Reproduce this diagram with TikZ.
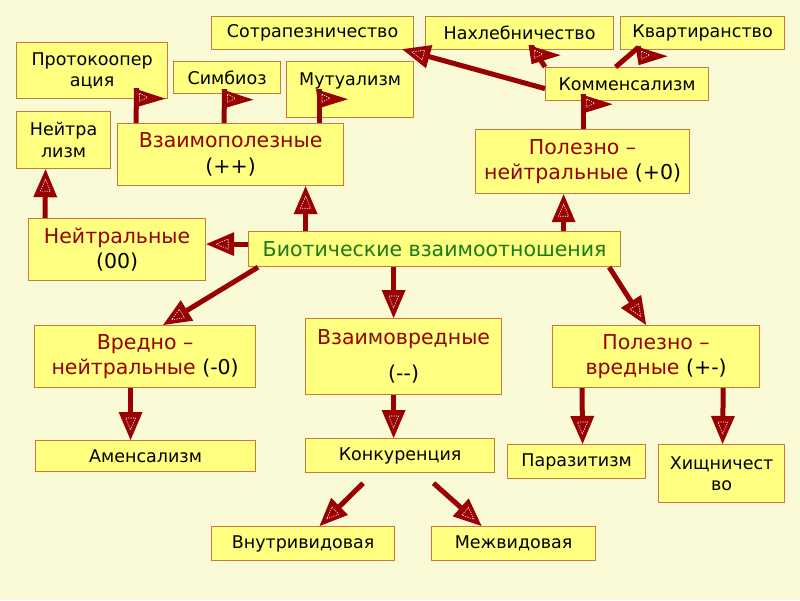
\documentclass[tikz,border=0pt]{standalone}
\usepackage{fontspec}
\setmainfont{DejaVu Sans}
\usetikzlibrary{arrows.meta}

\definecolor{fond}{HTML}{FBFAD6}
\definecolor{jaune}{HTML}{FFFF80}
\definecolor{bord}{HTML}{C87A3C}
\definecolor{rouge}{HTML}{990000}
\definecolor{vert}{HTML}{1A7A1A}

%pointe triangulaire avec contour blanc en tirets
\pgfdeclarearrow{
  name = Pike,
  setup code = {
    \pgfarrowssettipend{0pt}
    \pgfarrowssetlineend{-20pt}
    \pgfarrowssetbackend{-28pt}
    \pgfarrowshullpoint{0pt}{0pt}
    \pgfarrowshullpoint{-28pt}{12pt}
    \pgfarrowshullpoint{-28pt}{-12pt}
  },
  drawing code = {
    \pgfpathmoveto{\pgfqpoint{0pt}{0pt}}
    \pgfpathlineto{\pgfqpoint{-28pt}{12pt}}
    \pgfpathlineto{\pgfqpoint{-28pt}{-12pt}}
    \pgfpathclose
    \pgfusepathqfill
    \pgfsetlinewidth{0.6pt}
    \pgfsetdash{{1.2pt}{1.2pt}}{0pt}
    \pgfsetstrokecolor{white}
    \pgfpathmoveto{\pgfqpoint{-10pt}{0pt}}
    \pgfpathlineto{\pgfqpoint{-22pt}{5pt}}
    \pgfpathlineto{\pgfqpoint{-22pt}{-5pt}}
    \pgfpathclose
    \pgfusepathqstroke
  }
}
%pointe en drapeau
\pgfdeclarearrow{
  name = Flag,
  setup code = {
    \pgfarrowssettipend{0pt}
    \pgfarrowssetlineend{0pt}
    \pgfarrowssetbackend{-19pt}
    \pgfarrowshullpoint{0pt}{3pt}
    \pgfarrowshullpoint{-10pt}{-29pt}
    \pgfarrowshullpoint{-19pt}{0pt}
  },
  drawing code = {
    \pgfpathmoveto{\pgfqpoint{0pt}{3pt}}
    \pgfpathlineto{\pgfqpoint{-10pt}{-29pt}}
    \pgfpathlineto{\pgfqpoint{-19pt}{0pt}}
    \pgfpathclose
    \pgfusepathqfill
    \pgfsetlinewidth{0.6pt}
    \pgfsetdash{{1.2pt}{1.2pt}}{0pt}
    \pgfsetstrokecolor{white}
    \pgfpathmoveto{\pgfqpoint{-5pt}{-3pt}}
    \pgfpathlineto{\pgfqpoint{-9pt}{-11pt}}
    \pgfpathlineto{\pgfqpoint{-13pt}{-3pt}}
    \pgfpathclose
    \pgfusepathqstroke
  }
}

\tikzset{
  box/.style={draw=bord, line width=1.2pt, fill=jaune, anchor=north west, inner sep=0pt, align=center},
  leaf/.style={box, font=\fontsize{17.5}{21.5}\selectfont},
  head/.style={box, font=\fontsize{20.5}{25.5}\selectfont},
  link/.style={color=rouge, line width=5pt, -Pike},
  flaglink/.style={color=rouge, line width=5pt, -Flag},
}

\begin{document}
\begin{tikzpicture}[x=1pt, y=-1pt]
	\useasboundingbox (0,0) rectangle (800,600);
	\fill[fond] (0,0) rectangle (800,600);

	%noeuds du haut
	\node (sotr) at(211,16) [leaf, minimum width=202pt, minimum height=33pt] {Сотрапезничество};
	\node (nakh) at(425,16) [leaf, minimum width=188pt, minimum height=33pt] {Нахлебничество};
	\node (kvar) at(620,16) [leaf, minimum width=164pt, minimum height=33pt] {Квартиранство};
	\node (proto) at(16,42) [leaf, minimum width=151pt, minimum height=56pt] {Протокоопер\\ация};
	\node (simb) at(173,61) [leaf, minimum width=107pt, minimum height=32pt] {Симбиоз};
	\node (mutu) at(286,61) [leaf, minimum width=127pt, minimum height=56pt] {Мутуализм\\\mbox{}};
	\node (komm) at(545,67) [leaf, minimum width=163pt, minimum height=33pt] {Комменсализм};
	\node (neitrz) at(16,111) [leaf, minimum width=94pt, minimum height=57pt] {Нейтра\\лизм};

	%types d'interactions
	\node (vzpol) at(117,123) [head, minimum width=226pt, minimum height=62pt] {\textcolor{rouge}{Взаимополезные}\\(++)};
	\node (polneit) at(475,129) [head, minimum width=214pt, minimum height=64pt] {\textcolor{rouge}{Полезно –}\\\textcolor{rouge}{нейтральные} (+0)};
	\node (neitr) at(28,218) [head, minimum width=177pt, minimum height=62pt] {\textcolor{rouge}{Нейтральные}\\(00)};
	\node (biot) at(248,231) [head, text=vert, minimum width=372pt, minimum height=35pt] {Биотические взаимоотношения};
	\node (vrneit) at(34,325) [head, minimum width=221pt, minimum height=62pt] {\textcolor{rouge}{Вредно –}\\\textcolor{rouge}{нейтральные} (-0)};
	\node (vzvr) at(305,318) [head, minimum width=196pt, minimum height=76pt] {\textcolor{rouge}{Взаимовредные}\\[11pt](-{}-)};
	\node (polvr) at(552,325) [head, minimum width=207pt, minimum height=62pt] {\textcolor{rouge}{Полезно –}\\\textcolor{rouge}{вредные} (+-)};

	%noeuds du bas
	\node (amen) at(35,440) [leaf, minimum width=220pt, minimum height=31pt] {Аменсализм};
	\node (konk) at(305,438) [leaf, minimum width=189pt, minimum height=34pt] {Конкуренция};
	\node (paraz) at(507,444) [leaf, minimum width=138pt, minimum height=34pt] {Паразитизм};
	\node (khish) at(658,444) [leaf, minimum width=126pt, minimum height=58pt] {Хищничест\\во};
	\node (vnutr) at(211,526) [leaf, minimum width=183pt, minimum height=34pt] {Внутривидовая};
	\node (mezh) at(431,526) [leaf, minimum width=164pt, minimum height=34pt] {Межвидовая};

	%arcs depuis le noeud central
	\draw[link] ([yshift=5pt]biot.west) -- ([yshift=5.5pt]neitr.east);
	\draw[link] ([xshift=-129pt]biot.north) -- ([xshift=75pt]vzpol.south);
	\draw[link] ([xshift=129pt]biot.north) -- ([xshift=-19pt]polneit.south);
	\draw[link] ([xshift=10pt]biot.south west) -- ([xshift=18pt]vrneit.north);
	\draw[link] ([xshift=-41pt]biot.south) -- ([xshift=-10pt]vzvr.north);
	\draw[link] ([xshift=-12pt]biot.south east) -- ([xshift=-10pt]polvr.north);

	%arcs vers les feuilles
	\draw[link] ([xshift=17pt]neitr.north west) -- ([xshift=-18pt]neitrz.south);
	\draw[link] ([xshift=-14.5pt]vrneit.south) -- ([xshift=-15pt]amen.north);
	\draw[link] ([xshift=-10pt]vzvr.south) -- ([xshift=-6.5pt]konk.north);
	\draw[link] ([xshift=30pt]polvr.south west) -- ([xshift=6pt]paraz.north);
	\draw[link] ([xshift=-37pt]polvr.south east) -- ([xshift=1pt]khish.north);
	\draw[link] ([xshift=-37pt,yshift=-10pt]konk.south) -- ([xshift=16.5pt]vnutr.north);
	\draw[link] ([xshift=33.5pt,yshift=-10pt]konk.south) -- ([xshift=-32pt]mezh.north);
	\draw[link] ([yshift=-4.5pt]komm.west) -- ([xshift=-12pt,yshift=1pt]sotr.south east);

	%arcs en drapeau
	\draw[flaglink] ([xshift=19pt]vzpol.north west) -- ([xshift=44.5pt,yshift=11pt]proto.south);
	\draw[flaglink] ([xshift=107pt]vzpol.north west) -- ([xshift=-2.5pt,yshift=5pt]simb.south);
	\draw[flaglink] ([xshift=202pt]vzpol.north west) -- ([xshift=33pt,yshift=29pt]mutu.south west);
	\draw[flaglink] ([xshift=1pt]polneit.north) -- ([xshift=-43.5pt,yshift=7pt]komm.south);
	\draw[flaglink] (komm.north west) -- ([xshift=12pt,yshift=4pt]nakh.south) -- ([xshift=12pt,yshift=5pt]nakh.south);
	\draw[flaglink] ([xshift=-11.5pt]komm.north) -- ([xshift=-64pt,yshift=3pt]kvar.south) -- ([xshift=-64pt,yshift=4pt]kvar.south);
\end{tikzpicture}
\end{document}
